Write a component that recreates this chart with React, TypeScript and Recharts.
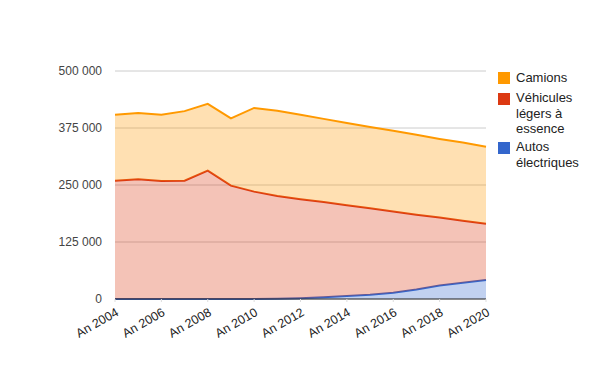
import React from 'react';
import { AreaChart, Area, XAxis, YAxis, CartesianGrid } from 'recharts';

const years = ['An 2004','An 2005','An 2006','An 2007','An 2008','An 2009','An 2010','An 2011','An 2012','An 2013','An 2014','An 2015','An 2016','An 2017','An 2018','An 2019','An 2020'];
// stacked series values (bottom to top)
const autos = [0, 0, 0, 0, 0, 0, 0, 400, 1500, 3700, 6600, 9400, 13800, 21000, 29500, 35500, 41500];
const vehicules = [259500, 262500, 259000, 259500, 281500, 248500, 235500, 225600, 217500, 208800, 198900, 189600, 178200, 164000, 149000, 136000, 123500];
const camions = [144500, 145500, 145000, 152500, 146500, 147500, 183500, 187000, 185000, 182500, 180500, 178000, 177000, 175000, 172500, 171500, 169000];
const yTicks = [0, 125000, 250000, 375000, 500000];

const seriesNames = ['Camions', 'Véhicules légers à essence', 'Autos électriques'];
const seriesColors = ['#ff9900', '#dc3912', '#3366cc'];

const data = years.map((y, i) => ({ year: y, camions: camions[i], vehicules: vehicules[i], autos: autos[i] }));

const fmt = (v: number) => {
  if (v === 0) return '0';
  const s = String(v);
  return s.replace(/\B(?=(\d{3})+(?!\d))/g, ' ');
};

const FONT = 'Arial, "Liberation Sans", sans-serif';

const legendTops = [69.5, 90, 139];

export default function App() {
  return (
    <div style={{ position: 'absolute', left: 0, top: 0, width: 600, height: 371, background: '#fff', fontFamily: FONT }}>
      <AreaChart width={600} height={371} data={data} margin={{ top: 71, right: 114, bottom: 0, left: 0 }}>
        <CartesianGrid vertical={false} stroke="#cccccc" />
        <XAxis
          dataKey="year"
          interval={1}
          height={72}
          axisLine={{ stroke: '#333333' }}
          tickLine={{ stroke: '#dddddd' }}
          tickSize={3}
          tickMargin={5}
          angle={-30}
          textAnchor="end"
          tick={{ fill: '#222222', fontSize: 12.5, fontFamily: FONT }}
        />
        <YAxis
          width={115}
          domain={[0, 500000]}
          ticks={yTicks}
          tickFormatter={fmt}
          axisLine={false}
          tickLine={false}
          tickSize={6}
          tickMargin={7}
          tick={{ fill: '#444444', fontSize: 12, fontFamily: FONT }}
        />
        <Area type="linear" stackId="s" dataKey="autos" stroke={seriesColors[2]} strokeWidth={2} fill={seriesColors[2]} fillOpacity={0.3} isAnimationActive={false} dot={false} activeDot={false} />
        <Area type="linear" stackId="s" dataKey="vehicules" stroke={seriesColors[1]} strokeWidth={2} fill={seriesColors[1]} fillOpacity={0.3} isAnimationActive={false} dot={false} activeDot={false} />
        <Area type="linear" stackId="s" dataKey="camions" stroke={seriesColors[0]} strokeWidth={2} fill={seriesColors[0]} fillOpacity={0.3} isAnimationActive={false} dot={false} activeDot={false} />
      </AreaChart>
      {seriesNames.map((name, i) => (
        <div key={name} style={{ position: 'absolute', left: 498, top: legendTops[i], display: 'flex', alignItems: 'flex-start' }}>
          <div style={{ width: 12, height: 12, marginTop: 2.5, background: seriesColors[i], flex: 'none' }} />
          <div style={{ marginLeft: 6, width: 80, fontSize: 13, lineHeight: '15.5px', color: '#222222' }}>{name}</div>
        </div>
      ))}
    </div>
  );
}
